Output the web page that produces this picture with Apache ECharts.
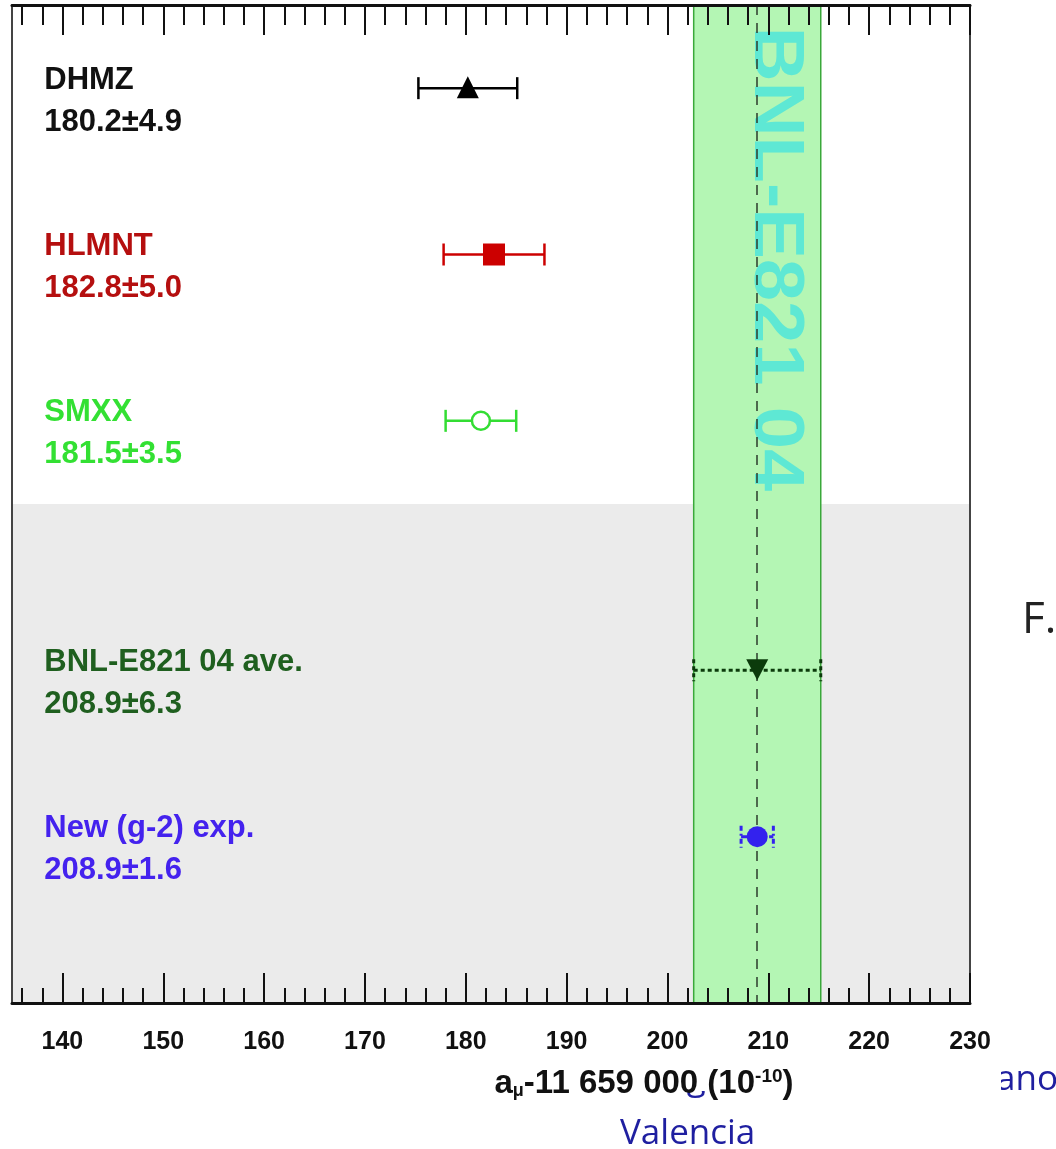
<!DOCTYPE html>
<html>
<head>
<meta charset="utf-8">
<script src="https://cdn.jsdelivr.net/npm/echarts@6/dist/echarts.min.js"></script>
<style>
  html, body { margin: 0; padding: 0; background: #fff; }
  #main { width: 1056px; height: 1149px; }
</style>
</head>
<body>
<div id="main"></div>
<script>
// values
var names = ["DHMZ", "HLMNT", "SMXX", "BNL-E821 04 ave.", "New (g-2) exp."];
var centers = [180.2, 182.8, 181.5, 208.9, 208.9];
var errors = [4.9, 5.0, 3.5, 6.3, 1.6];
var rows = [1, 3, 5, 8, 10];
var majorTicks = [140, 150, 160, 170, 180, 190, 200, 210, 220, 230];
var minorTicks = [136, 138, 142, 144, 146, 148, 152, 154, 156, 158, 162, 164, 166, 168,
  172, 174, 176, 178, 182, 184, 186, 188, 192, 194, 196, 198, 202, 204, 206, 208,
  212, 214, 216, 218, 222, 224, 226, 228];
var bandIndex = 3;   // the BNL average gives the green band
var grayRows = [6, 12];

var labelX = 138.2;
var font = 'bold 31px "Liberation Sans", Arial, sans-serif';

var looks = [
  { color: "#000000", text: "#111111", marker: "triangle" },
  { color: "#cc0000", text: "#b50f0f", marker: "square" },
  { color: "#33dd33", text: "#33e033", marker: "ocircle" },
  { color: "#0b3b0b", text: "#1f5f1f", marker: "dtriangle", dash: [4, 3], capDash: [4, 3], width: 3 },
  { color: "#3322ee", text: "#4422ee", marker: "circle", dash: [6, 3, 2, 3], capDash: [5, 3, 2, 3], width: 3 }
];

var points = [];
for (var i = 0; i < names.length; i++) {
  points.push([centers[i], errors[i], rows[i]]);
}

function markerShape(kind, x, y, col) {
  if (kind === "triangle") {
    return { type: "polygon", shape: { points: [[x, y - 12], [x - 11, y + 10], [x + 11, y + 10]] }, style: { fill: col } };
  }
  if (kind === "dtriangle") {
    return { type: "polygon", shape: { points: [[x - 11, y - 11], [x + 11, y - 11], [x, y + 10]] }, style: { fill: col } };
  }
  if (kind === "square") {
    return { type: "rect", shape: { x: x - 11, y: y - 11, width: 22, height: 22 }, style: { fill: col } };
  }
  if (kind === "ocircle") {
    return { type: "circle", shape: { cx: x, cy: y, r: 9 }, style: { fill: "#fff", stroke: col, lineWidth: 2.5 } };
  }
  return { type: "circle", shape: { cx: x, cy: y, r: 10.5 }, style: { fill: col } };
}

function renderItem(params, api) {
  var i = params.dataIndex;
  var s = looks[i];
  var c = api.coord([api.value(0), api.value(2)]);
  var lo = api.coord([api.value(0) - api.value(1), api.value(2)]);
  var hi = api.coord([api.value(0) + api.value(1), api.value(2)]);
  var t = api.coord([labelX, api.value(2)]);
  var capH = 11;
  var w = s.width || 2.5;
  var barStyle = { stroke: s.color, lineWidth: w, lineDash: s.dash || null };
  var capStyle = { stroke: s.color, lineWidth: w, lineDash: s.capDash || null };
  return {
    type: "group",
    children: [
      { type: "line", shape: { x1: lo[0], y1: c[1], x2: hi[0], y2: c[1] }, style: barStyle },
      { type: "line", shape: { x1: lo[0], y1: c[1] - capH, x2: lo[0], y2: c[1] + capH }, style: capStyle },
      { type: "line", shape: { x1: hi[0], y1: c[1] - capH, x2: hi[0], y2: c[1] + capH }, style: capStyle },
      markerShape(s.marker, c[0], c[1], s.color),
      { type: "text", x: t[0], y: c[1] - 8, style: { text: names[i], font: font, fill: s.text, align: "left", verticalAlign: "middle", textAlign: "left", textVerticalAlign: "middle" } },
      { type: "text", x: t[0], y: c[1] + 34, style: { text: api.value(0).toFixed(1) + "\u00b1" + api.value(1).toFixed(1), font: font, fill: s.text, align: "left", verticalAlign: "middle", textAlign: "left", textVerticalAlign: "middle" } }
    ]
  };
}

var tickLine = { color: "#111", width: 2 };
var borderLine = { color: "#444", width: 2 };

var myChart = echarts.init(document.getElementById("main"));
var option = {
  animation: false,
  backgroundColor: "#fff",
  grid: [
    { left: 12, right: 86, top: 5, bottom: 146, show: false },
    { left: 12, right: 86, top: 5, bottom: 146, show: false }
  ],
  xAxis: [
    {
      type: "value", gridIndex: 0, position: "bottom", min: 135, max: 230, z: 10,
      splitLine: { show: false },
      axisLine: { show: true, onZero: false, lineStyle: { color: "#111", width: 3 } },
      axisTick: { show: true, inside: true, length: 30, customValues: majorTicks, lineStyle: tickLine },
      axisLabel: {
        customValues: majorTicks, margin: 27, color: "#111",
        fontFamily: "Liberation Sans", fontWeight: "bold", fontSize: 25
      },
      name: "{t|a}{sub|\u03bc}{t|-11 659 000 (10}{sup|-10}{t|)}",
      nameLocation: "middle",
      nameGap: 64,
      nameTextStyle: {
        padding: [0, 0, 0, 306],
        rich: {
          t: { fontFamily: "Liberation Sans", fontWeight: "bold", fontSize: 33, color: "#111" },
          sub: { fontFamily: "Liberation Sans", fontWeight: "bold", fontSize: 18, color: "#111", verticalAlign: "bottom", padding: [14, 0, 0, 0] },
          sup: { fontFamily: "Liberation Sans", fontWeight: "bold", fontSize: 19, color: "#111", verticalAlign: "top", padding: [0, 0, 12, 0] }
        }
      }
    },
    {
      type: "value", gridIndex: 0, position: "top", min: 135, max: 230, z: 10,
      splitLine: { show: false },
      axisLine: { show: true, onZero: false, lineStyle: { color: "#111", width: 3 } },
      axisTick: { show: true, inside: true, length: 30, customValues: majorTicks, lineStyle: tickLine },
      axisLabel: { show: false }
    },
    {
      type: "value", gridIndex: 1, position: "bottom", min: 135, max: 230, z: 10,
      splitLine: { show: false },
      axisLine: { show: false, onZero: false },
      axisTick: { show: true, inside: true, length: 15, customValues: minorTicks, lineStyle: tickLine },
      axisLabel: { show: false }
    },
    {
      type: "value", gridIndex: 1, position: "top", min: 135, max: 230, z: 10,
      splitLine: { show: false },
      axisLine: { show: false, onZero: false },
      axisTick: { show: true, inside: true, length: 20, customValues: minorTicks, lineStyle: tickLine },
      axisLabel: { show: false }
    }
  ],
  yAxis: [
    {
      type: "value", gridIndex: 0, position: "left", min: 0, max: 12, inverse: true, z: 10,
      splitLine: { show: false }, axisTick: { show: false }, axisLabel: { show: false },
      axisLine: { show: true, onZero: false, lineStyle: borderLine }
    },
    {
      type: "value", gridIndex: 0, position: "right", min: 0, max: 12, inverse: true, z: 10,
      splitLine: { show: false }, axisTick: { show: false }, axisLabel: { show: false },
      axisLine: { show: true, onZero: false, lineStyle: borderLine }
    },
    { type: "value", gridIndex: 1, min: 0, max: 12, inverse: true, show: false, splitLine: { show: false } }
  ],
  graphic: [
    {
      type: "text", x: 1058, y: 1080, z: 1,
      style: { text: "Miguel A. Sanchis-Lozano", font: '35px "Open Sans", sans-serif', fill: "#1f1fa0", align: "right", verticalAlign: "middle", textAlign: "right", textVerticalAlign: "middle" }
    },
    { type: "rect", z: 2, shape: { x: 0, y: 1006, width: 1001, height: 85 }, style: { fill: "#fff" } },
    {
      type: "text", x: 620, y: 1134, z: 1,
      style: { text: "Valencia", font: '35px "Open Sans", sans-serif', fill: "#1f1fa0", align: "left", verticalAlign: "middle", textAlign: "left", textVerticalAlign: "middle" }
    },
    {
      type: "text", x: 1022, y: 620, z: 1,
      style: { text: "F.", font: '44px "Open Sans", sans-serif', fill: "#222", align: "left", verticalAlign: "middle", textAlign: "left", textVerticalAlign: "middle" }
    },
    {
      type: "text", x: 774, y: 259, z: 3, rotation: -Math.PI / 2, scaleX: 1.085,
      style: { text: "BNL-E821 04", font: 'bold 70px "Liberation Sans", Arial, sans-serif', fill: "#5ee8d4", align: "center", verticalAlign: "middle", textAlign: "center", textVerticalAlign: "middle" }
    }
  ],
  series: [
    {
      name: "gray", type: "line", data: [], z: 1,
      markArea: {
        silent: true, z: 1,
        itemStyle: { color: "#ebebeb" },
        data: [[{ yAxis: grayRows[0] }, { yAxis: grayRows[1] }]]
      }
    },
    {
      name: "band", type: "line", data: [], z: 2,
      markArea: {
        silent: true, z: 2,
        itemStyle: { color: "#b4f6b4", borderColor: "#3aa83a", borderWidth: 1.5 },
        data: [[{ xAxis: centers[bandIndex] - errors[bandIndex] }, { xAxis: centers[bandIndex] + errors[bandIndex] }]]
      }
    },
    {
      name: "centre", type: "line", data: [], z: 4,
      markLine: {
        silent: true, z: 4, symbol: ["none", "none"],
        label: { show: false },
        lineStyle: { color: "#2b3b2b", width: 1.5, type: [10, 8] },
        data: [{ xAxis: centers[bandIndex] }]
      }
    },
    {
      name: "points", type: "custom", z: 5,
      renderItem: renderItem,
      data: points
    }
  ]
};
myChart.setOption(option);
</script>
</body>
</html>
